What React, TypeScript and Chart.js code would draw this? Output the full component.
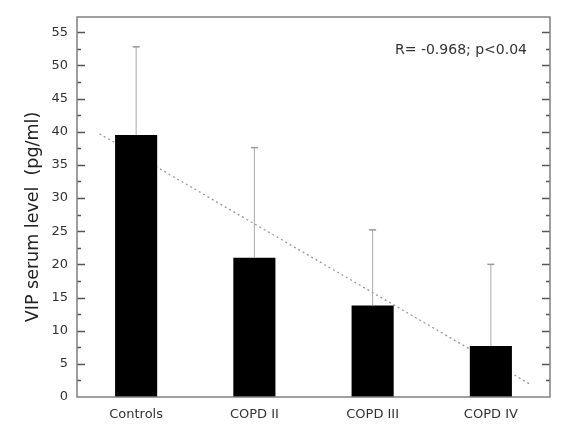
import React, { useEffect, useRef } from 'react';
import { Chart, registerables } from 'chart.js';

Chart.register(...registerables);

// values
const groups = ['Controls', 'COPD II', 'COPD III', 'COPD IV'];
const meanVip = [39.5, 21.0, 13.8, 7.7];
const upperError = [52.8, 37.6, 25.2, 20.0];
// dotted regression line, endpoints as drawn (category index, pg/ml)
const trendX = [-0.31, 3.33];
const trendY = [39.7, 1.95];
const yTitle = 'VIP serum level  (pg/ml)';
const annotation = 'R= -0.968; p<0.04';

const FONT = "'DejaVu Sans', Verdana, sans-serif";

// error bars above each bar
const errorBars = {
  id: 'errorBars',
  afterDatasetsDraw(chart: any) {
    const ctx = chart.ctx;
    const y = chart.scales.y;
    const meta = chart.getDatasetMeta(0);
    ctx.save();
    meta.data.forEach((bar: any, i: number) => {
      const top = y.getPixelForValue(upperError[i]);
      ctx.strokeStyle = '#aaaaaa';
      ctx.lineWidth = 1;
      ctx.beginPath();
      ctx.moveTo(bar.x, bar.y);
      ctx.lineTo(bar.x, top);
      ctx.stroke();
      ctx.strokeStyle = '#999999';
      ctx.lineWidth = 1.5;
      ctx.beginPath();
      ctx.moveTo(bar.x - 3.5, top);
      ctx.lineTo(bar.x + 3.5, top);
      ctx.stroke();
    });
    ctx.restore();
  },
};

// box frame with inward ticks on both sides, the y title and the R/p note
const frame = {
  id: 'frame',
  afterDraw(chart: any) {
    const { ctx, chartArea } = chart;
    const { left, right, top, bottom } = chartArea;
    const y = chart.scales.y;
    ctx.save();
    ctx.strokeStyle = '#555555';
    ctx.lineWidth = 1.5;
    y.ticks.forEach((t: any) => {
      const v = t.value;
      if (v <= 0 || Math.abs(v / 2.5 - Math.round(v / 2.5)) > 1e-6) return;
      const len = Math.abs(v / 5 - Math.round(v / 5)) < 1e-6 ? 8 : 4;
      const py = Math.round(y.getPixelForValue(v)) + 0.5;
      ctx.beginPath();
      ctx.moveTo(left, py);
      ctx.lineTo(left + len, py);
      ctx.moveTo(right, py);
      ctx.lineTo(right - len, py);
      ctx.stroke();
    });
    ctx.strokeStyle = '#808080';
    ctx.lineWidth = 1.5;
    ctx.strokeRect(left, top, right - left, bottom - top);

    ctx.fillStyle = '#333333';
    ctx.font = `14px ${FONT}`;
    ctx.textAlign = 'right';
    ctx.textBaseline = 'middle';
    ctx.fillText(annotation, right - 23, top + 33);

    // y title, a little below the middle of the axis as in the figure
    ctx.fillStyle = '#222222';
    ctx.font = `17.5px ${FONT}`;
    ctx.textAlign = 'center';
    ctx.translate(33, (top + bottom) / 2 + 10);
    ctx.rotate(-Math.PI / 2);
    ctx.fillText(yTitle, 0, 0);
    ctx.restore();
  },
};

const App: React.FC = () => {
  const canvasRef = useRef<HTMLCanvasElement>(null);

  useEffect(() => {
    const ctx = canvasRef.current?.getContext('2d');
    if (!ctx) return;

    const chart = new Chart(ctx, {
      type: 'bar',
      data: {
        labels: groups,
        datasets: [
          {
            type: 'bar',
            data: meanVip,
            backgroundColor: '#000000',
            borderWidth: 0,
            grouped: false,
            categoryPercentage: 1,
            barPercentage: 0.356,
            order: 0,
          },
          {
            type: 'line',
            data: trendX.map((x, i) => ({ x, y: trendY[i] })),
            xAxisID: 'xTrend',
            borderColor: '#999999',
            borderWidth: 1.3,
            borderDash: [2, 3],
            pointRadius: 0,
            fill: false,
            order: 1,
          } as any,
        ],
      },
      options: {
        animation: false,
        responsive: true,
        maintainAspectRatio: false,
        layout: { padding: { top: 17, right: 33, left: 0, bottom: 0 } },
        plugins: {
          legend: { display: false },
          tooltip: { enabled: false },
        },
        scales: {
          x: {
            type: 'category',
            offset: true,
            grid: { display: false, drawTicks: false },
            border: { display: false },
            ticks: {
              color: '#333333',
              font: { family: FONT, size: 13 },
              padding: 10,
            },
            afterFit: (s: any) => {
              s.height = 38;
            },
          },
          xTrend: {
            type: 'linear',
            display: false,
            offset: false,
            min: -0.5,
            max: 3.5,
          },
          y: {
            min: 0,
            max: 57.3,
            grid: { display: false, drawTicks: false },
            border: { display: false },
            ticks: {
              stepSize: 2.5,
              autoSkip: false,
              color: '#333333',
              font: { family: FONT, size: 13 },
              padding: 9,
              callback: (v: any) => (Math.abs(v / 5 - Math.round(v / 5)) < 1e-6 ? String(v) : ''),
            },
            afterFit: (s: any) => {
              s.width = 77;
            },
          },
        },
      },
      plugins: [errorBars, frame],
    });

    return () => chart.destroy();
  }, []);

  return (
    <div style={{ position: 'absolute', left: 0, top: 0, width: 583, height: 435, background: '#fff' }}>
      <canvas ref={canvasRef} />
    </div>
  );
};

export default App;
